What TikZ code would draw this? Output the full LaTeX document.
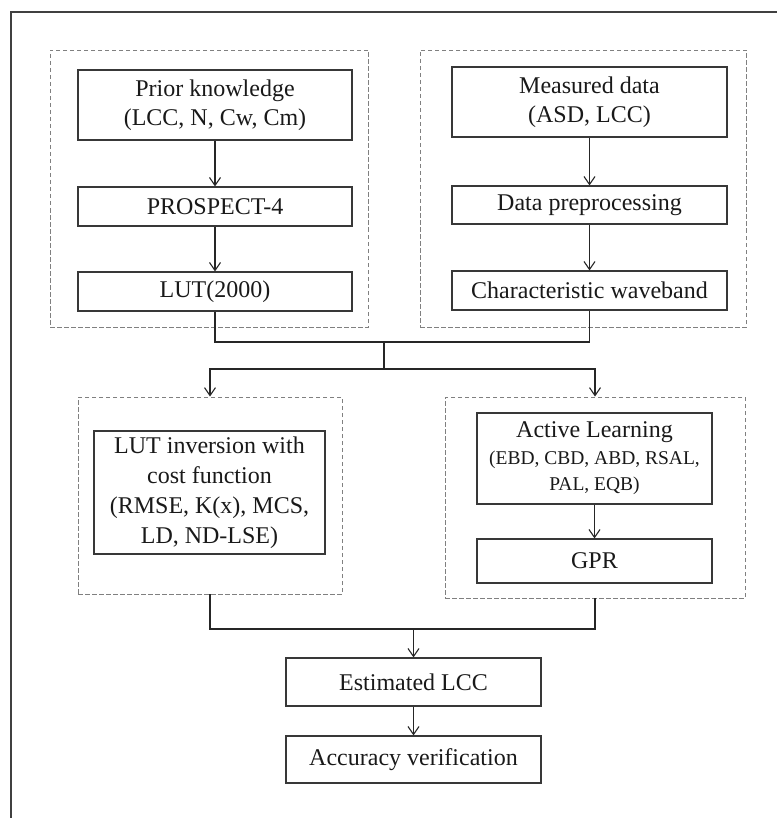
\documentclass[tikz,border=0pt]{standalone}
\usepackage{fontspec}
\setmainfont{Liberation Serif}
\usetikzlibrary{arrows.meta}
\begin{document}
\begin{tikzpicture}[x=1pt,y=-1pt,
  box/.style={draw=black!78, line width=1.1pt, inner sep=0pt, align=center,
    font=\fontsize{24}{29}\selectfont, text=black!90},
  group/.style={draw=black!50, line width=0.9pt, dash pattern=on 4.5pt off 2.5pt, inner sep=0pt},
  conn/.style={draw=black!85, line width=1.2pt},
  arr/.style={conn, -{Straight Barb[length=8pt,width=11pt,line width=1.1pt]}},
  frame/.style={draw=black!75, line width=2pt}
]
\useasboundingbox (0,0) rectangle (777,818);
\coordinate (fb) at (11,818);
\coordinate (fc) at (11,12);
\coordinate (fr) at (777,12);
\draw[frame] (fb) -- (fc) -- (fr);

% dashed groups
\node[group, minimum width=318pt, minimum height=277pt] (gtl) at (209,188.5) {};
\node[group, minimum width=326pt, minimum height=277pt] (gtr) at (583,188.5) {};
\node[group, minimum width=264pt, minimum height=197pt] (gbl) at (210,495.5) {};
\node[group, minimum width=300pt, minimum height=201pt] (gbr) at (595,497.5) {};

% left column
\node[box, minimum width=274pt, minimum height=70pt] (prior) at (215,105) {Prior knowledge\\(LCC, N, Cw, Cm)};
\node[box, minimum width=274pt, minimum height=39pt] (prosp) at (215,206.5) {PROSPECT-4};
\node[box, minimum width=274pt, minimum height=39pt] (lut) at (215,291.5) {LUT(2000)};

% right column
\node[box, minimum width=275pt, minimum height=70pt] (meas) at (589.5,102) {Measured data\\(ASD, LCC)};
\node[box, minimum width=275pt, minimum height=38pt] (prep) at (589.5,205) {Data preprocessing};
\node[box, minimum width=275pt, minimum height=39pt] (char) at (589.5,290.5) {Characteristic waveband};

% lower
\node[box, minimum width=231pt, minimum height=123pt, font=\fontsize{24}{30}\selectfont] (inv) at (209.5,492.5)
  {LUT inversion with\\cost function\\(RMSE, K(x), MCS,\\LD, ND-LSE)};
\node[box, minimum width=235pt, minimum height=91pt] (al) at (594.5,458.5)
  {Active Learning\\[-2pt]{\fontsize{19.5}{24}\selectfont (EBD, CBD, ABD, RSAL,}\\[-3pt]{\fontsize{19.5}{24}\selectfont PAL, EQB)}};
\node[box, minimum width=235pt, minimum height=44pt] (gpr) at (594.5,561) {GPR};

\node[box, minimum width=255pt, minimum height=48pt] (est) at (413.5,682) {Estimated LCC};
\node[box, minimum width=255pt, minimum height=47pt] (acc) at (413.5,759.5) {Accuracy verification};

% connectors
\draw[arr] (prior) -- (prosp);
\draw[arr] (prosp) -- (lut);
\draw[arr] (meas.south -| prep.north) -- (prep);
\draw[arr] (prep) -- (char);

\coordinate (m1) at (384,342);
\coordinate (m2) at (384,369);
\draw[conn] (lut.south) |- (m1) -| (char.south);
\draw[conn] (m1) -- (m2);
\draw[arr] (m2) -| (gbl.north);
\draw[arr] (m2) -| (gbr.north);

\draw[arr] (al) -- (gpr);

\coordinate (j) at (413.5,629);
\draw[conn] (gbl.south) |- (j) -| (gbr.south);
\draw[arr] (j) -- (est);
\draw[arr] (est) -- (acc);
\end{tikzpicture}
\end{document}
